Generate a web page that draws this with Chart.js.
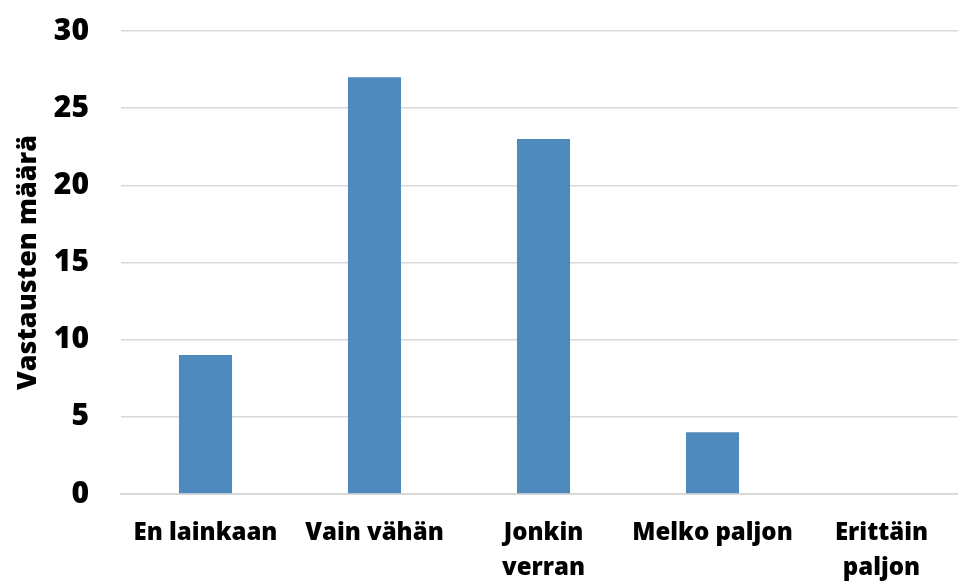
<!DOCTYPE html>
<html lang="fi">
  <head>
    <meta charset="utf-8">
    <title>Vastausten määrä</title>
    <script src="https://cdn.jsdelivr.net/npm/chart.js@4.4.1/dist/chart.umd.min.js"></script>
    <style>
      html, body { margin: 0; padding: 0; background: #fff; overflow: hidden; }
      /* the plot area runs a little past the right edge in the original */
      #wrap { width: 958px; height: 584px; overflow: hidden; }
    </style>
  </head>
  <body>
    <div id="wrap"><canvas id="chart" width="966" height="584"></canvas></div>
    <script>
      var categories = [["En lainkaan"], ["Vain vähän"], ["Jonkin", "verran"], ["Melko paljon"], ["Erittäin", "paljon"]];
      var answers = [9, 27, 23, 4, 0];
      var yTicks = [0, 5, 10, 15, 20, 25, 30];

      var font = "'Open Sans', 'Noto Sans', sans-serif";

      new Chart(document.getElementById("chart"), {
        type: "bar",
        data: {
          labels: categories,
          datasets: [{
            data: answers,
            backgroundColor: "#4f8abe",
            borderWidth: 0,
            barPercentage: 0.314,
            categoryPercentage: 1.0
          }]
        },
        options: {
          responsive: false,
          animation: false,
          layout: { padding: { top: 31, right: 0, left: 12, bottom: 0 } },
          plugins: { legend: { display: false }, tooltip: { enabled: false } },
          scales: {
            x: {
              grid: { display: false, drawTicks: false },
              border: { color: "#d9d9d9", width: 2 },
              ticks: {
                color: "#000",
                padding: 22,
                maxRotation: 0,
                autoSkip: false,
                font: { family: font, size: 24, weight: 800, lineHeight: 1.45 }
              },
              afterFit: function (s) { s.height = 90; s.paddingLeft = 0; s.paddingRight = 0; }
            },
            y: {
              min: 0,
              max: 30,
              afterBuildTicks: function (s) { s.ticks = yTicks.map(function (v) { return { value: v }; }); },
              grid: { color: "#d9d9d9", lineWidth: 1.5, drawTicks: false },
              border: { display: false },
              ticks: {
                color: "#000",
                padding: 32,
                font: { family: font, size: 30, weight: 800 }
              },
              title: {
                display: true,
                text: "Vastausten määrä",
                color: "#000",
                padding: 0,
                font: { family: font, size: 27, weight: 800 }
              },
              afterFit: function (s) { s.width = 109; s.paddingTop = 0; s.paddingBottom = 0; }
            }
          }
        }
      });
    </script>
  </body>
</html>
